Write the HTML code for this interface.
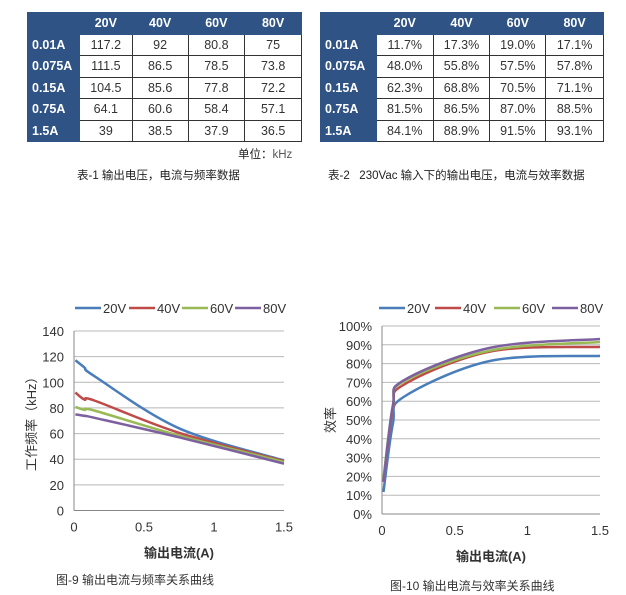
<!DOCTYPE html>
<html><head><meta charset="utf-8">
<style>
body{margin:0;background:#fff;width:626px;height:595px;overflow:hidden;position:relative;font-family:"Liberation Sans","Noto Sans CJK SC",sans-serif;}
table{position:absolute;border-collapse:collapse;}
td{border:1px solid #333;height:20.5px;padding:0;text-align:center;font-size:12.5px;color:#333;}
th{background:#2f5384;color:#fff;font-weight:bold;font-size:12.5px;height:20.5px;padding:0;border:1px solid #2f5384;}
td.rh{background:#2f5384;color:#fff;font-weight:bold;text-align:left;padding-left:4px;border-color:#2f5384;}
.cap{position:absolute;font-size:11.5px;color:#222;white-space:nowrap;}
svg{position:absolute;left:0;top:0;}
</style></head><body>
<table style="left:27px;top:12px;width:275px;">
<colgroup><col style="width:52px"><col style="width:53px"><col style="width:56px"><col style="width:57px"><col style="width:57px"></colgroup>
<tr><th></th><th>20V</th><th>40V</th><th>60V</th><th>80V</th></tr>
<tr><td class="rh">0.01A</td><td>117.2</td><td>92</td><td>80.8</td><td>75</td></tr>
<tr><td class="rh">0.075A</td><td>111.5</td><td>86.5</td><td>78.5</td><td>73.8</td></tr>
<tr><td class="rh">0.15A</td><td>104.5</td><td>85.6</td><td>77.8</td><td>72.2</td></tr>
<tr><td class="rh">0.75A</td><td>64.1</td><td>60.6</td><td>58.4</td><td>57.1</td></tr>
<tr><td class="rh">1.5A</td><td>39</td><td>38.5</td><td>37.9</td><td>36.5</td></tr>
</table>
<div class="cap" style="left:238px;top:146px;">单位：<span style="color:#555">kHz</span></div>
<div class="cap" style="left:77px;top:167px;">表-1 输出电压，电流与频率数据</div>

<table style="left:320px;top:12px;width:284px;">
<colgroup><col style="width:56px"><col style="width:57px"><col style="width:57px"><col style="width:56px"><col style="width:58px"></colgroup>
<tr><th></th><th>20V</th><th>40V</th><th>60V</th><th>80V</th></tr>
<tr><td class="rh">0.01A</td><td>11.7%</td><td>17.3%</td><td>19.0%</td><td>17.1%</td></tr>
<tr><td class="rh">0.075A</td><td>48.0%</td><td>55.8%</td><td>57.5%</td><td>57.8%</td></tr>
<tr><td class="rh">0.15A</td><td>62.3%</td><td>68.8%</td><td>70.5%</td><td>71.1%</td></tr>
<tr><td class="rh">0.75A</td><td>81.5%</td><td>86.5%</td><td>87.0%</td><td>88.5%</td></tr>
<tr><td class="rh">1.5A</td><td>84.1%</td><td>88.9%</td><td>91.5%</td><td>93.1%</td></tr>
</table>
<div class="cap" style="left:328px;top:167px;">表-2&nbsp;&nbsp; 230Vac 输入下的输出电压，电流与效率数据</div>

<svg id="c" width="626" height="595"></svg>
<script>
const currents=[0.01,0.075,0.15,0.75,1.5];
const seriesNames=["20V","40V","60V","80V"];
const colors=["#4a7ebb","#be4b48","#98b954","#7d60a0"];
const freq20=[117.2,111.5,104.5,64.1,39];
const freq40=[92,86.5,85.6,60.6,38.5];
const freq60=[80.8,78.5,77.8,58.4,37.9];
const freq80=[75,73.8,72.2,57.1,36.5];
const eff20=[11.7,48.0,62.3,81.5,84.1];
const eff40=[17.3,55.8,68.8,86.5,88.9];
const eff60=[19.0,57.5,70.5,87.0,91.5];
const eff80=[17.1,57.8,71.1,88.5,93.1];
const xTicks=["0","0.5","1","1.5"];
const fTicks=["0","20","40","60","80","100","120","140"];
const eTicks=["0%","10%","20%","30%","40%","50%","60%","70%","80%","90%","100%"];
const NS="http://www.w3.org/2000/svg";
const svg=document.getElementById('c');
function mk(tag,attrs,txt){const e=document.createElementNS(NS,tag);for(const k in attrs)e.setAttribute(k,attrs[k]);if(txt!==undefined)e.textContent=txt;svg.appendChild(e);return e;}
function smooth(pts){let d="M"+pts[0][0]+","+pts[0][1];for(let i=0;i<pts.length-1;i++){const p0=pts[Math.max(0,i-1)],p1=pts[i],p2=pts[i+1],p3=pts[Math.min(pts.length-1,i+2)];const t=0.5/3;const c1=[p1[0]+(p2[0]-p0[0])*t,p1[1]+(p2[1]-p0[1])*t];const c2=[p2[0]-(p3[0]-p1[0])*t,p2[1]-(p3[1]-p1[1])*t];d+=" C"+c1+" "+c2+" "+p2;}return d;}
function chart(o){
  const X=v=>o.x0+(o.x1-o.x0)*v/1.5;
  const Y=v=>o.y0-(o.y0-o.y1)*v/o.ymax;
  o.yt.forEach((t,i)=>{const v=o.ymax*i/(o.yt.length-1);
    const g=mk('line',{x1:o.x0,x2:o.x1,y1:Y(v),y2:Y(v),stroke:i==0?'#888':'#b8b8b8','stroke-width':1});
    
    const l=mk('text',{x:o.x0-10,y:Y(v)+5,'text-anchor':'end','font-size':13,fill:'#333'},t);
    });
  const ax=mk('line',{x1:o.x0,x2:o.x0,y1:o.y1,y2:o.y0,stroke:'#888'});
  
  xTicks.forEach(t=>{const l=mk('text',{x:X(parseFloat(t)),y:o.y0+21,'text-anchor':'middle','font-size':13,fill:'#333'},t);
    });
  const xt=mk('text',{x:(o.x0+o.x1)/2,y:o.y0+47,'text-anchor':'middle','font-size':13,'font-weight':'bold',fill:'#333'},'输出电流(A)');
  
  const yt=mk('text',{x:0,y:0,'text-anchor':'middle','font-size':13,fill:'#333',transform:`translate(${o.ytx},${(o.y0+o.y1)/2}) rotate(-90)`},o.ytitle);
  
  o.data.forEach((arr,s)=>{
    const p=mk('path',{d:smooth(currents.map((c,i)=>[X(c),Y(arr[i])])),fill:'none',stroke:colors[s],'stroke-width':2.5});
    
    const lx=o.leg[s];
    const ll=mk('line',{x1:lx,x2:lx+26,y1:308,y2:308,stroke:colors[s],'stroke-width':2.5});
    
    const lt=mk('text',{x:lx+28,y:313,'font-size':13,fill:'#333'},seriesNames[s]);
    
  });
  const c=mk('text',{x:o.capx,y:o.capy,'font-size':12,fill:'#333'},o.cap);
  
}
chart({x0:74,x1:284,y0:510.5,y1:331,ymax:140,yt:fTicks,data:[freq20,freq40,freq60,freq80],leg:[75,129,182,235],ytitle:'工作频率（kHz）',ytx:36,cap:'图-9  输出电流与频率关系曲线',capx:56,capy:584});
chart({x0:382,x1:600,y0:514,y1:326,ymax:100,yt:eTicks,data:[eff20,eff40,eff60,eff80],leg:[379,435,494,552],ytitle:'效率',ytx:335,cap:'图-10 输出电流与效率关系曲线',capx:390,capy:590});
</script>
</body></html>
